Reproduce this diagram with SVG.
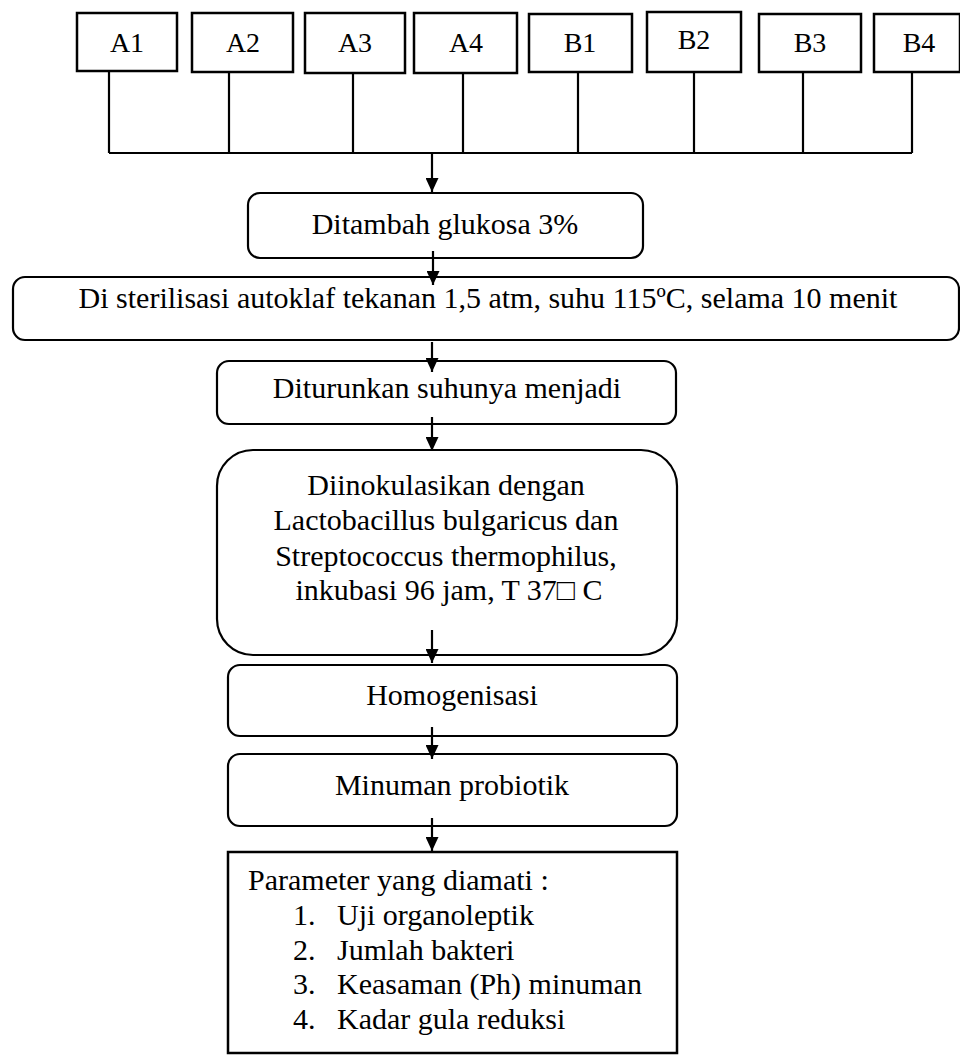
<svg xmlns="http://www.w3.org/2000/svg" width="960" height="1055" viewBox="0 0 960 1055">
<style>
.box{fill:#fff;stroke:#000;stroke-width:2.5}
.rbox{fill:#fff;stroke:#000;stroke-width:2.2}
.lbl{font-family:"Liberation Serif","Times New Roman",serif;font-size:28px;fill:#000;text-anchor:middle}
.t{font-family:"Liberation Serif","Times New Roman","DejaVu Serif",serif;font-size:30px;fill:#000;text-anchor:middle}
.ts{font-family:"Liberation Serif","Times New Roman",serif;font-size:30px;fill:#000}
.ln{fill:none;stroke:#000;stroke-width:2.2}
.ar{fill:none;stroke:#000;stroke-width:2.2;marker-end:url(#ah)}
</style>
<defs>
<marker id="ah" markerUnits="userSpaceOnUse" viewBox="0 0 14 13" refX="14" refY="6.5" markerWidth="14" markerHeight="13" orient="auto">
<path d="M0,0 L14,6.5 L0,13 Z" fill="#000"/>
</marker>
</defs>
<rect width="960" height="1055" fill="#fff"/>
<g id="A1"><rect class="box" x="77" y="13" width="100" height="58"/><text class="lbl" x="127" y="52">A1</text></g>
<g id="A2"><rect class="box" x="192" y="13" width="101" height="59"/><text class="lbl" x="243" y="52">A2</text></g>
<g id="A3"><rect class="box" x="305" y="13" width="100" height="60"/><text class="lbl" x="355" y="52">A3</text></g>
<g id="A4"><rect class="box" x="414" y="13" width="103" height="60"/><text class="lbl" x="466" y="52">A4</text></g>
<g id="B1"><rect class="box" x="529" y="14" width="103" height="58"/><text class="lbl" x="580" y="52">B1</text></g>
<g id="B2"><rect class="box" x="647" y="12" width="94" height="60"/><text class="lbl" x="694" y="49">B2</text></g>
<g id="B3"><rect class="box" x="759" y="14" width="102" height="58"/><text class="lbl" x="810" y="52">B3</text></g>
<g id="B4"><rect class="box" x="874" y="14" width="86" height="58"/><text class="lbl" x="919" y="52">B4</text></g>
<g id="glukosa"><rect class="rbox" x="248" y="193" width="395" height="65" rx="12"/><text class="t" x="445" y="234">Ditambah glukosa 3%</text></g>
<g id="sterilisasi"><rect class="rbox" x="13" y="277" width="946" height="63" rx="12"/><text class="t" x="488" y="308">Di sterilisasi autoklaf tekanan 1,5 atm, suhu 115ºC, selama 10 menit</text></g>
<g id="diturunkan"><rect class="rbox" x="217" y="361" width="459" height="63" rx="12"/><text class="t" x="447" y="398">Diturunkan suhunya menjadi</text></g>
<g id="inokulasi"><rect class="rbox" x="217" y="450" width="460" height="205" rx="36"/>
<text class="t" x="446" y="495">Diinokulasikan dengan</text>
<text class="t" x="446" y="530">Lactobacillus bulgaricus dan</text>
<text class="t" x="446" y="566">Streptococcus thermophilus,</text>
<text class="t" x="449" y="600">inkubasi 96 jam, T 37□ C</text></g>
<g id="homogenisasi"><rect class="rbox" x="228" y="665" width="449" height="71" rx="12"/><text class="t" x="452" y="705">Homogenisasi</text></g>
<g id="minuman"><rect class="rbox" x="228" y="754" width="449" height="72" rx="12"/><text class="t" x="452" y="795">Minuman probiotik</text></g>
<g id="parameter"><rect class="box" x="228" y="852" width="449" height="201"/>
<text class="ts" x="248" y="890">Parameter yang diamati :</text>
<text class="ts" x="293" y="925">1.</text><text class="ts" x="337" y="925">Uji organoleptik</text>
<text class="ts" x="293" y="960">2.</text><text class="ts" x="337" y="960">Jumlah bakteri</text>
<text class="ts" x="293" y="994">3.</text><text class="ts" x="337" y="994">Keasaman (Ph) minuman</text>
<text class="ts" x="293" y="1029">4.</text><text class="ts" x="337" y="1029">Kadar gula reduksi</text></g>
<g id="connectors">
<path class="ln" d="M109,72 V153 M229,72 V153 M353,73 V153 M463,73 V153 M578,72 V153 M694,72 V153 M803,72 V153 M912,72 V153 M109,153 H912"/>
<path class="ar" d="M432,153 V192"/>
<path class="ar" d="M433,251 V285"/>
<path class="ar" d="M432,342 V372"/>
<path class="ar" d="M432,417 V451"/>
<path class="ar" d="M432,630 V663"/>
<path class="ar" d="M432,727 V759"/>
<path class="ar" d="M432,818 V851"/>
</g>
</svg>
